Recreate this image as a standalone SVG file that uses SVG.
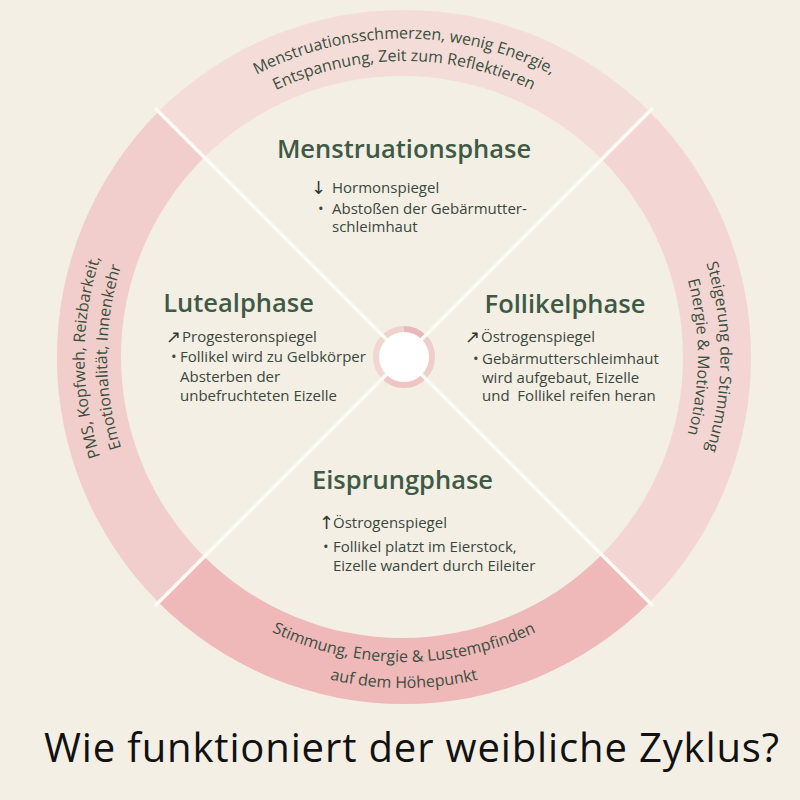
<svg xmlns="http://www.w3.org/2000/svg" width="800" height="800" viewBox="0 0 800 800">
  <style>
    .arc { font-family: "Open Sans", "Noto Sans", sans-serif; font-size: 16px; fill: #3b4f3e; }
    .head { font-family: "Open Sans", "Noto Sans", sans-serif; font-size: 25.5px; font-weight: 600; fill: #3f5a44; text-anchor: middle; }
    .body { font-family: "Open Sans", "Noto Sans", sans-serif; font-size: 15px; fill: #3a473c; }
    .sym { font-family: "DejaVu Sans", sans-serif; font-size: 18px; fill: #2e3830; }
    .sep { stroke: #fcfaf5; stroke-width: 3.5; fill: none; }
    .title { font-family: "Open Sans", "Noto Sans", sans-serif; font-size: 40px; fill: #111111; }
  </style>
  <defs>
    <path id="pTop1" d="M 85.5 357 A 318.5 318.5 0 0 1 722.5 357"/>
    <path id="pTop2" d="M 108 357 A 296 296 0 0 1 700 357"/>
    <path id="pRight1" d="M 404 40.5 A 316.5 316.5 0 0 1 404 673.5"/>
    <path id="pRight2" d="M 404 63 A 294 294 0 0 1 404 651"/>
    <path id="pLeft1" d="M 404 676.5 A 319.5 319.5 0 0 1 404 37.5"/>
    <path id="pLeft2" d="M 404 654 A 297 297 0 0 1 404 60"/>
    <path id="pBot1" d="M 99 357 A 305 305 0 0 0 709 357"/>
    <path id="pBot2" d="M 73 357 A 331 331 0 0 0 735 357"/>
  </defs>

  <rect x="0" y="0" width="800" height="800" fill="#f3efe5"/>

  <g id="ring-menstruation">
    <path d="M 158.6 111.6 A 347 347 0 0 1 649.4 111.6 L 600.7 158.3 A 281 281 0 0 0 203.3 158.3 Z" fill="#f4ddd8"/>
    <text class="arc"><textPath href="#pTop1" startOffset="50%" text-anchor="middle">Menstruationsschmerzen, wenig Energie,</textPath></text>
    <text class="arc"><textPath href="#pTop2" startOffset="50%" text-anchor="middle">Entspannung, Zeit zum Reflektieren</textPath></text>
  </g>
  <g id="ring-follikel">
    <path d="M 649.4 111.6 A 347 347 0 0 1 649.4 602.4 L 600.7 555.7 A 281 281 0 0 0 600.7 158.3 Z" fill="#f3d6d3"/>
    <text class="arc"><textPath href="#pRight1" startOffset="50%" text-anchor="middle">Steigerung der Stimmung</textPath></text>
    <text class="arc"><textPath href="#pRight2" startOffset="50%" text-anchor="middle">Energie &amp; Motivation</textPath></text>
  </g>
  <g id="ring-eisprung">
    <path d="M 649.4 602.4 A 347 347 0 0 1 158.6 602.4 L 203.3 555.7 A 281 281 0 0 0 600.7 555.7 Z" fill="#efb8b9"/>
    <text class="arc"><textPath href="#pBot1" startOffset="50%" text-anchor="middle">Stimmung, Energie &amp; Lustempfinden</textPath></text>
    <text class="arc"><textPath href="#pBot2" startOffset="50%" text-anchor="middle">auf dem Höhepunkt</textPath></text>
  </g>
  <g id="ring-luteal">
    <path d="M 158.6 602.4 A 347 347 0 0 1 158.6 111.6 L 203.3 158.3 A 281 281 0 0 0 203.3 555.7 Z" fill="#f1cecc"/>
    <text class="arc"><textPath href="#pLeft1" startOffset="50%" text-anchor="middle">PMS, Kopfweh, Reizbarkeit,</textPath></text>
    <text class="arc"><textPath href="#pLeft2" startOffset="50%" text-anchor="middle">Emotionalität, Innenkehr</textPath></text>
  </g>

  <g id="center-ring" fill="none" stroke-width="6">
    <path d="M 384.2 337.2 A 28 28 0 0 1 404 329" stroke="#f0d3ce"/>
    <path d="M 404 329 A 28 28 0 0 1 423.8 337.2" stroke="#e9b8b8"/>
    <path d="M 423.8 337.2 A 28 28 0 0 1 423.8 376.8" stroke="#efcdcb"/>
    <path d="M 423.8 376.8 A 28 28 0 0 1 384.2 376.8" stroke="#eec5c3"/>
    <path d="M 384.2 376.8 A 28 28 0 0 1 384.2 337.2" stroke="#f2d6d1"/>
  </g>

  <g id="connectors">
    <line class="sep" x1="155" y1="108" x2="653" y2="606"/>
    <line class="sep" x1="653" y1="108" x2="155" y2="606"/>
  </g>

  <g id="center">
    <circle cx="404" cy="357" r="24.8" fill="#ffffff"/>
  </g>

  <g id="menstruationsphase">
    <text class="head" x="404" y="158">Menstruationsphase</text>
    <text class="sym" x="311" y="194">↓</text>
    <text class="body" x="332" y="193">Hormonspiegel</text>
    <text class="body" x="318" y="214">•</text>
    <text class="body" x="332" y="214">Abstoßen der Gebärmutter-</text>
    <text class="body" x="332" y="232">schleimhaut</text>
  </g>

  <g id="lutealphase">
    <text class="head" x="238.5" y="312">Lutealphase</text>
    <text class="sym" x="166" y="343">↗</text>
    <text class="body" x="182" y="342">Progesteronspiegel</text>
    <text class="body" x="171" y="362">•</text>
    <text class="body" x="180" y="362">Follikel wird zu Gelbkörper</text>
    <text class="body" x="180" y="382">Absterben der</text>
    <text class="body" x="180" y="401">unbefruchteten Eizelle</text>
  </g>

  <g id="follikelphase">
    <text class="head" x="565" y="313">Follikelphase</text>
    <text class="sym" x="465" y="343">↗</text>
    <text class="body" x="481" y="342">Östrogenspiegel</text>
    <text class="body" x="473" y="364">•</text>
    <text class="body" x="482" y="364">Gebärmutterschleimhaut</text>
    <text class="body" x="482" y="383">wird aufgebaut, Eizelle</text>
    <text class="body" x="482" y="401" xml:space="preserve">und  Follikel reifen heran</text>
  </g>

  <g id="eisprungphase">
    <text class="head" x="402.5" y="489">Eisprungphase</text>
    <text class="sym" x="319" y="529">↑</text>
    <text class="body" x="333" y="528">Östrogenspiegel</text>
    <text class="body" x="323" y="552">•</text>
    <text class="body" x="333" y="552">Follikel platzt im Eierstock,</text>
    <text class="body" x="333" y="571">Eizelle wandert durch Eileiter</text>
  </g>

  <g id="title">
    <text class="title" x="44" y="762" textLength="735" lengthAdjust="spacing">Wie funktioniert der weibliche Zyklus?</text>
  </g>
</svg>
